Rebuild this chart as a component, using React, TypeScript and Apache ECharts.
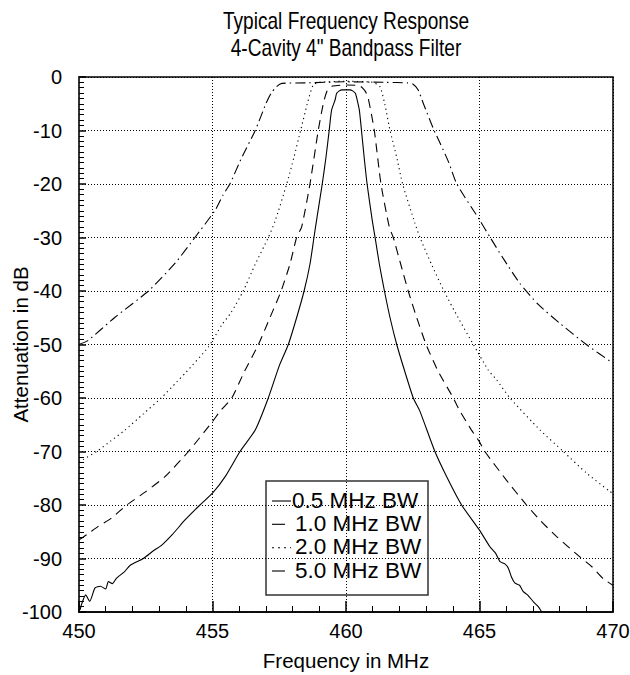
import React, { useEffect, useRef } from "react";
import * as echarts from "echarts";

// 0.5 MHz BW (solid)
const bw05Freq = [450.04, 450.1, 450.25, 450.4, 450.6, 450.8, 451.0, 451.1, 451.25, 451.4, 451.7, 451.91, 452.41, 452.8, 453.1, 453.5, 453.97, 454.53, 455.0, 455.5, 456.03, 456.6, 457.09, 457.5, 457.84, 458.15, 458.43, 458.65, 458.8, 458.9, 459.11, 459.25, 459.37, 459.46, 459.59, 459.65, 459.75, 459.85, 460.0, 460.15, 460.25, 460.35, 460.42, 460.5, 460.58, 460.68, 460.79, 460.98, 461.09, 461.25, 461.44, 461.65, 461.9, 462.2, 462.52, 462.77, 463.33, 463.8, 464.33, 465.0, 465.39, 465.6, 465.77, 465.95, 466.08, 466.2, 466.33, 466.5, 466.64, 466.8, 467.02, 467.2, 467.33];
const bw05Db = [-99.6, -98.5, -96.8, -98, -95.5, -95.2, -95.7, -94.3, -94.7, -93.7, -92.5, -91.3, -90, -88.5, -87.5, -85.5, -82.8, -80, -77.8, -74.5, -70, -66, -60, -54, -50, -45, -40, -35, -30, -26.7, -20, -15, -10, -6.2, -4.3, -3.05, -2.6, -2.4, -2.4, -2.4, -2.6, -3.05, -4.3, -6.2, -10, -15, -20, -26.7, -30, -35, -40, -45, -50, -55, -60, -62.5, -70, -75, -80, -84.7, -87.8, -89, -90.6, -91, -91.8, -93.5, -94.6, -95, -96.2, -96.8, -98.1, -99, -100];

// 1.0 MHz BW (dashed)
const bw10Freq = [450.0, 450.3, 450.72, 451.2, 451.79, 452.5, 453.22, 454.1, 455.0, 455.28, 455.72, 456.2, 456.72, 457.15, 457.57, 457.9, 458.15, 458.34, 458.65, 458.96, 459.15, 459.3, 459.5, 460.0, 460.5, 460.7, 460.82, 461.06, 461.31, 461.62, 461.77, 462.05, 462.33, 462.65, 463.0, 463.45, 464.02, 464.24, 464.7, 465.0, 465.2, 466.0, 466.76, 467.3, 467.89, 468.76, 469.2, 469.64, 470.0];
const bw10Db = [-86.5, -85.5, -84, -82.5, -80, -77.5, -74.7, -70, -64.4, -62.5, -60, -55, -50, -45, -40, -35, -30, -28, -20, -10, -5, -2.5, -1.7, -1.5, -1.6, -2.5, -3.7, -10, -20, -28, -30, -35, -40, -45, -50, -55, -60, -62.2, -66, -68.2, -70, -75.3, -80, -83, -85.9, -89.7, -91.5, -93.8, -95];

// 2.0 MHz BW (dotted)
const bw20Freq = [450.0, 450.16, 450.66, 451.2, 451.72, 452.4, 453.08, 453.66, 453.97, 454.84, 455.34, 455.7, 456.15, 456.6, 457.09, 457.34, 457.78, 458.05, 458.3, 458.55, 458.77, 459.0, 460.0, 461.0, 461.27, 461.45, 461.65, 461.9, 462.12, 462.58, 462.77, 463.2, 463.67, 464.2, 464.77, 465.33, 465.64, 466.14, 467.27, 468.14, 469.0, 469.89, 470.0];
const bw20Db = [-72, -71.5, -70, -68, -66, -63, -60, -57, -55.4, -50.5, -46.4, -44, -40, -35, -30, -27, -20, -15, -10, -5, -1.5, -1.0, -0.8, -1.0, -1.8, -5, -10, -15, -20, -27.3, -30, -35, -40, -45, -50, -54.8, -56.6, -60, -66, -70, -74, -77.5, -77.8];

// 5.0 MHz BW (dash-dot)
const bw50Freq = [450.0, 450.35, 451.35, 452.6, 453.6, 454.34, 455.1, 455.4, 455.65, 456.1, 456.6, 457.0, 457.2, 457.4, 457.6, 458.5, 460.0, 461.5, 462.3, 462.5, 462.7, 462.9, 463.3, 463.5, 463.85, 464.15, 465.0, 465.4, 465.9, 466.5, 467.2, 468.0, 469.0, 470.0];
const bw50Db = [-50, -49.2, -44.9, -40, -34.8, -30, -24.9, -22, -20, -15, -10, -5, -3, -1.8, -1.2, -1.1, -0.9, -1.0, -1.1, -1.3, -2.4, -5, -10, -12.1, -16, -20, -26.7, -30, -34, -38.5, -42.5, -46, -50, -53.5];

const seriesNames = ["0.5 MHz BW", "1.0 MHz BW", "2.0 MHz BW", "5.0 MHz BW"];
const titleLines = ["Typical Frequency Response", "4-Cavity 4\" Bandpass Filter"];
const xTicks = [450, 455, 460, 465, 470];
const yTicks = [0, -10, -20, -30, -40, -50, -60, -70, -80, -90, -100];

const FONT = "'Liberation Sans', Arial, Helvetica, sans-serif";

function pairs(xs: number[], ys: number[]) {
  return xs.map((x, i) => [x, ys[i]]);
}

export default function App() {
  const ref = useRef<HTMLDivElement>(null);
  useEffect(() => {
    if (!ref.current) return;
    const chart = echarts.init(ref.current, null, { renderer: "svg" });
    const dashes: any[] = ["solid", [9, 6], [1.2, 3.5], [10, 4, 1.5, 4]];
    const legendDashes: any[] = [null, [13, 20], [2, 4], [13, 20]];
    const datas = [
      pairs(bw05Freq, bw05Db),
      pairs(bw10Freq, bw10Db),
      pairs(bw20Freq, bw20Db),
      pairs(bw50Freq, bw50Db),
    ];
    const lgX = 266, lgY = 481, lgW = 162, lgH = 114;
    const rowY = [500, 523.3, 546.7, 570];
    const legendChildren: any[] = [
      { type: "rect", shape: { x: lgX, y: lgY, width: lgW, height: lgH }, style: { fill: "#fff", stroke: "#333", lineWidth: 1.5 } },
    ];
    seriesNames.forEach((name, i) => {
      legendChildren.push({
        type: "line",
        shape: { x1: 272, y1: rowY[i] + 1, x2: i === 0 ? 291 : i === 2 ? 291 : 286, y2: rowY[i] + 1 },
        style: { stroke: "#000", lineWidth: 1.1, lineDash: legendDashes[i] || undefined },
      });
      legendChildren.push({
        type: "text",
        x: i === 0 ? 292 : 295,
        y: rowY[i],
        style: { text: name, fontFamily: FONT, fontSize: 22.5, fill: "#000", verticalAlign: "middle", align: "left" },
      });
    });
    const titleChildren = titleLines.map((t, i) => ({
      type: "text",
      x: 346,
      y: 21 + i * 27,
      scaleX: 0.83,
      style: { text: t, fontFamily: FONT, fontSize: 23, fill: "#000", align: "center", verticalAlign: "middle" },
    }));
    chart.setOption({
      animation: false,
      backgroundColor: "#fff",
      grid: {
        left: 79, right: 17, top: 77, bottom: 63,
        containLabel: false, outerBoundsMode: "none",
        show: true, borderColor: "#000", borderWidth: 1.5, backgroundColor: "transparent",
      },
      xAxis: {
        type: "value",
        min: 450,
        max: 470,
        interval: 5,
        name: "Frequency in MHz",
        nameLocation: "middle",
        nameGap: 38,
        nameMoveOverlap: false,
        nameTextStyle: { fontFamily: FONT, fontSize: 20.5, color: "#000" },
        axisLine: { show: true, onZero: false, lineStyle: { color: "#000", width: 1.5 } },
        axisTick: { show: true, inside: true, length: 11, lineStyle: { color: "#000", width: 1.5 } },
        minorTick: { show: true, splitNumber: 5, length: 6, lineStyle: { color: "#000", width: 1 } },
        axisLabel: {
          fontFamily: FONT, fontSize: 20, color: "#000", margin: 9,
          formatter: (v: number) => (xTicks.indexOf(v) >= 0 ? String(v) : ""),
        },
        splitLine: { show: true, lineStyle: { color: "#000", width: 1, type: [1, 2] } },
      },
      yAxis: {
        type: "value",
        min: -100,
        max: 0,
        interval: 10,
        name: "Attenuation in dB",
        nameLocation: "middle",
        nameGap: 48,
        nameMoveOverlap: false,
        nameTextStyle: { fontFamily: FONT, fontSize: 20.5, color: "#000" },
        axisLine: { show: true, onZero: false, lineStyle: { color: "#333", width: 2 } },
        axisTick: { show: true, inside: true, length: 7, lineStyle: { color: "#000", width: 1.5 } },
        minorTick: { show: true, splitNumber: 10, length: 5, lineStyle: { color: "#000", width: 1 } },
        axisLabel: {
          fontFamily: FONT, fontSize: 20, color: "#000", margin: 17,
          formatter: (v: number) => (yTicks.indexOf(v) >= 0 ? String(v) : ""),
        },
        splitLine: { show: true, lineStyle: { color: "#000", width: 1, type: [1, 2] } },
      },
      graphic: [
        { type: "group", z: 100, children: legendChildren },
        { type: "group", z: 100, children: titleChildren },
      ],
      series: seriesNames.map((name, i) => ({
        name,
        type: "line",
        data: datas[i],
        showSymbol: false,
        symbol: "none",
        smooth: 0.2,
        clip: true,
        lineStyle: { color: "#000", width: 1.1, type: dashes[i] },
        itemStyle: { color: "#000" },
      })),
    });
    return () => chart.dispose();
  }, []);
  return <div ref={ref} style={{ position: "absolute", left: 0, top: 0, width: 630, height: 675 }} />;
}
